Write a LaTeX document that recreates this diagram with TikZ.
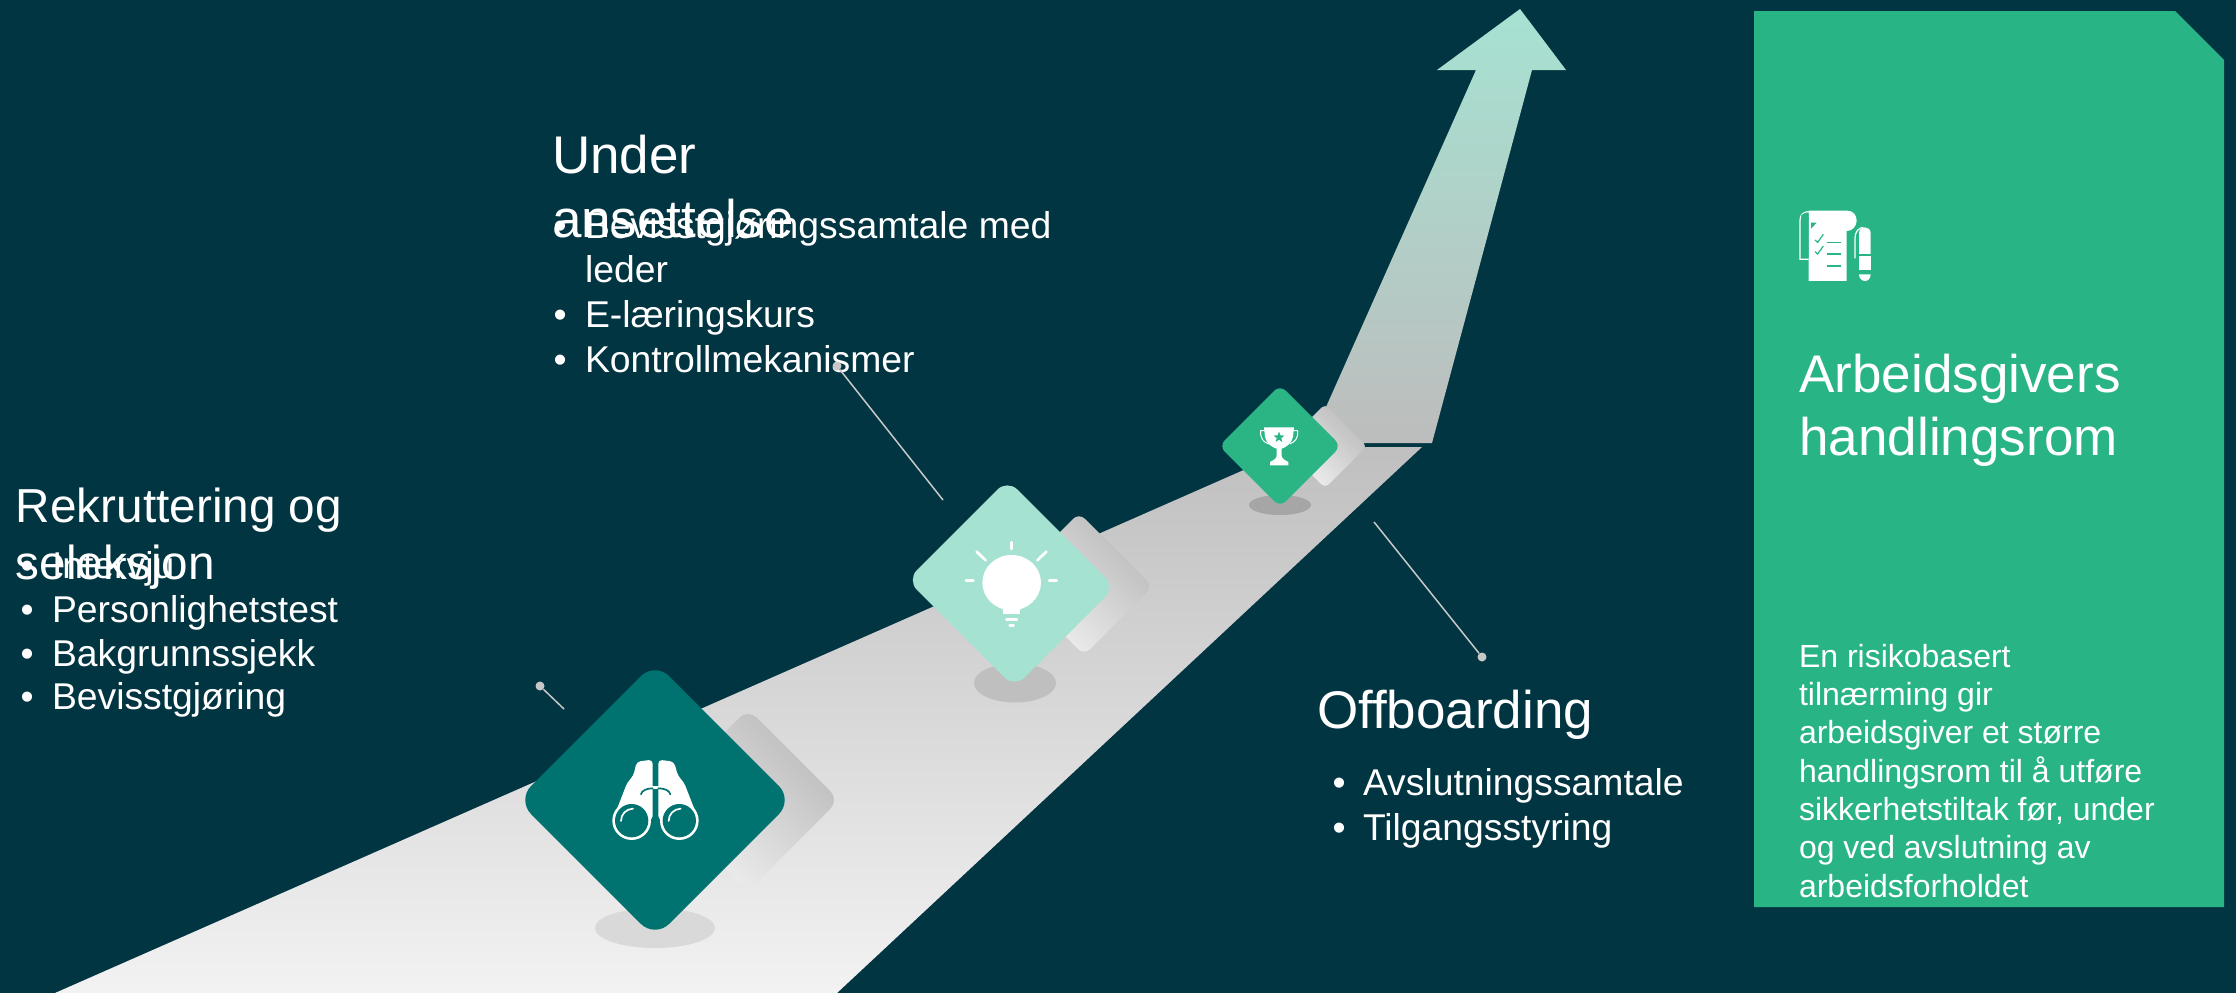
\documentclass[tikz,border=0pt]{standalone}
\usepackage{fontspec}
\setmainfont{Liberation Sans}
\usetikzlibrary{shapes.geometric}
\definecolor{bgc}{HTML}{023542}
\definecolor{tealc}{HTML}{007370}
\definecolor{mintc}{HTML}{A6E2D2}
\definecolor{greenc}{HTML}{2BB584}
\definecolor{panelc}{HTML}{28B484}
\definecolor{leadc}{HTML}{C8C8C8}
\tikzset{
  tx/.style={anchor=base west,inner sep=0pt,outer sep=0pt,text=white},
  ttl/.style={tx,font=\fontsize{#1}{#1}\selectfont},
  bod/.style={tx,font=\fontsize{37.3}{37.3}\selectfont},
  pan/.style={tx,font=\fontsize{32}{32}\selectfont},
  pin/.style={circle,fill=leadc,inner sep=0pt,minimum size=9pt},
  leader/.style={draw=leadc,line width=1.5pt},
  ray/.style={draw=white,line width=2.7pt,line cap=round}
}
\newcommand{\bul}[5]{%
  \node[bod] (#1b) at (#2,#4) {•};
  \node[bod] (#1) at (#3,#4) {#5};}
\begin{document}
\begin{tikzpicture}[x=1pt,y=-1pt]
\useasboundingbox (0,0) rectangle (2236,993);
\fill[bgc] (0,0) rectangle (2236,993);

% arrow and road
\path[top color=mintc,bottom color=black!26]
  (1520,9) -- (1566,70) -- (1532,70) -- (1432,443) -- (1310,443) -- (1476,70) -- (1437,70) -- cycle;
\path[top color=black!25,bottom color=black!5]
  (55,993) -- (1296,447) -- (1422,447) -- (837,993) -- cycle;

% floor shadows
\fill[black!15] (655,928) ellipse [x radius=60,y radius=20];
\fill[black!25] (1015,683) ellipse [x radius=41,y radius=19.5];
\fill[black!35] (1280,505) ellipse [x radius=31,y radius=10];

% back plates
\path[rounded corners=12pt,top color=black!27,bottom color=black!5,shading angle=-45]
  (839,800) -- (748,709) -- (657,800) -- (748,891) -- cycle;
\path[rounded corners=8pt,top color=black!27,bottom color=black!5,shading angle=-45]
  (1152.5,586.5) -- (1079,513) -- (1010.5,581.5) -- (1084,655) -- cycle;
\path[rounded corners=5pt,top color=black!27,bottom color=black!5,shading angle=-45]
  (1367,446) -- (1325,404) -- (1283,446) -- (1325,488) -- cycle;

% diamonds
\fill[tealc,rounded corners=20pt] (793,800) -- (655,662) -- (517,800) -- (655,938) -- cycle;
\fill[mintc,rounded corners=14pt] (1115,587) -- (1007.4,479.6) -- (907,580) -- (1014.6,687.4) -- cycle;
\fill[greenc,rounded corners=8pt] (1341,446) -- (1280,385) -- (1219,446) -- (1280,507) -- cycle;

% binoculars
\begin{scope}[shift={(500,620)},x=0.3333pt,y=-0.3333pt]
  \fill[white,rounded corners=4pt] (410,425) -- (458,419) -- (458,600) -- (342,590) -- (382,487) -- (400,468) -- cycle;
  \fill[white,rounded corners=4pt] (522,425) -- (475,419) -- (475,600) -- (592,590) -- (552,487) -- (534,468) -- cycle;
  \fill[white] (455,498) rectangle (478,506);
  \fill[white] (395,602) circle [radius=58];
  \fill[white] (538,602) circle [radius=58];
  \fill[tealc] (395,602) circle [radius=50];
  \fill[tealc] (538,602) circle [radius=50];
  \draw[white,line width=1.7pt,line cap=round] (363,603) .. controls (363,583) and (378,567) .. (399,566);
  \draw[white,line width=1.7pt,line cap=round] (506,603) .. controls (506,583) and (521,567) .. (542,566);
  \draw[tealc,line width=1.7pt,line cap=round] (423,523) .. controls (425,512) and (440,505) .. (458,505);
  \draw[tealc,line width=1.7pt,line cap=round] (511,523) .. controls (509,512) and (494,505) .. (475,505);
  \fill[tealc] (458,400) rectangle (475,497);
  \fill[tealc] (458,507) rectangle (475,660);
\end{scope}

% bulb
\begin{scope}[shift={(890,470)},x=0.3333pt,y=-0.3333pt]
  \fill[white] (365,338) ellipse [x radius=88,y radius=83];
  \fill[white] (340,400) rectangle (390,432);
  \draw[white,line width=2.4pt,line cap=round] (349,449) -- (381,449);
  \draw[white,line width=2.4pt,line cap=round] (359,467) -- (371,467);
  \draw[ray] (364,217) -- (364,237);
  \draw[ray] (260,245) -- (287,271);
  \draw[ray] (469,245) -- (442,271);
  \draw[ray] (228,332) -- (250,332);
  \draw[ray] (478,332) -- (500,332);
\end{scope}

% trophy
\begin{scope}[shift={(1200,370)},x=0.3333pt,y=-0.3333pt]
  \fill[white] (192,172) -- (282,172) -- (279,200) .. controls (276,220) and (258,232) .. (245,236)
    -- (245,258) .. controls (246,266) and (256,272) .. (265,276) -- (265,286) -- (210,286) -- (210,276)
    .. controls (219,272) and (229,266) .. (230,258) -- (230,236) .. controls (216,232) and (198,220) .. (195,200) -- cycle;
  \draw[white,line width=1pt] (194,182) -- (182,182) .. controls (180,205) and (190,216) .. (206,222);
  \draw[white,line width=1pt] (280,182) -- (293,182) .. controls (295,205) and (285,216) .. (269,222);
  \node[star,star points=5,star point ratio=2.4,fill=greenc,inner sep=0pt,minimum size=11.5pt] (trophystar) at (237,202) {};
\end{scope}

% right panel
\fill[panelc] (1754,11) -- (2175,11) -- (2224,60) -- (2224,907) -- (1754,907) -- cycle;

% document and pen
\begin{scope}[shift={(1750,190)},x=0.3333pt,y=-0.3333pt]
  \fill[white] (176,100) -- (176,62) -- (292,62) .. controls (310,62) and (320,76) .. (320,92) .. controls (320,110) and (306,123) .. (290,123) -- (290,273) -- (176,273) -- cycle;
  \fill[panelc] (183,98) -- (200,98) -- (183,116) -- cycle;
  \draw[white,line width=1.2pt] (176,208) -- (150,208) -- (150,90) .. controls (150,74) and (162,65) .. (175,65);
  \fill[panelc] (154,76) .. controls (158,70) and (170,68) .. (176,70) -- (176,204) -- (154,204) -- cycle;
  \draw[white,line width=1.2pt] (175,65) .. controls (190,65) and (200,76) .. (200,92);
  \draw[panelc,line width=1.2pt] (195,150) -- (203,157) -- (220,133);
  \draw[panelc,line width=1.2pt] (195,185) -- (203,192) -- (220,168);
  \draw[panelc,line width=1.2pt] (230,157) -- (272,157);
  \draw[panelc,line width=1.2pt] (230,192) -- (272,192);
  \draw[panelc,line width=1.2pt] (230,228) -- (272,228);
  \fill[white] (327,192) -- (327,130) .. controls (327,118) and (336,112) .. (345,112) .. controls (354,112) and (362,118) .. (362,130) -- (362,192) -- cycle;
  \fill[white] (327,197) rectangle (362,241);
  \fill[white] (327,253) -- (362,253) .. controls (362,265) and (354,273) .. (345,273) .. controls (336,273) and (327,265) .. (327,253) -- cycle;
  \draw[white,line width=1.2pt] (315,205) -- (315,145) .. controls (315,125) and (326,113) .. (340,112);
\end{scope}

\node[ttl=53] (t4a) at (1799.5,392) {Arbeidsgivers};
\node[ttl=53] (t4b) at (1799.5,455) {handlingsrom};
\node[pan] (p1) at (1799,667) {En risikobasert};
\node[pan] (p2) at (1799,705) {tilnærming gir};
\node[pan] (p3) at (1799,743) {arbeidsgiver et større};
\node[pan] (p4) at (1799,782) {handlingsrom til å utføre};
\node[pan] (p5) at (1799,820) {sikkerhetstiltak før, under};
\node[pan] (p6) at (1799,858) {og ved avslutning av};
\node[pan] (p7) at (1799,897) {arbeidsforholdet};

% Rekruttering
\node[ttl=47.7] (t1a) at (16,522) {Rekruttering og};
\node[ttl=47.7] (t1b) at (16,579) {seleksjon};
\bul{a1}{20.5}{52}{578}{Intervju}
\bul{a2}{20.5}{52}{622}{Personlighetstest}
\bul{a3}{20.5}{52}{666}{Bakgrunnssjekk}
\bul{a4}{20.5}{52}{709}{Bevisstgjøring}

% Under ansettelse
\node[ttl=53] (t2a) at (552,173) {Under};
\node[ttl=53] (t2b) at (552,237) {ansettelse};
\bul{b1}{553.5}{585}{238}{Bevisstgjøringssamtale med}
\node[bod] (b1x) at (585,282) {leder};
\bul{b2}{553.5}{585}{327}{E-læringskurs}
\bul{b3}{553.5}{585}{372}{Kontrollmekanismer}

% Offboarding
\node[ttl=53] (t3a) at (1317,728) {Offboarding};
\bul{c1}{1332.5}{1363}{795}{Avslutningssamtale}
\bul{c2}{1332.5}{1363}{840}{Tilgangsstyring}

% leaders
\node[pin] (pin1) at (540,686) {};
\coordinate (end1) at (564,709);
\draw[leader] (pin1) -- (end1);
\node[pin] (pin2) at (837,366) {};
\coordinate (end2) at (943,500);
\draw[leader] (pin2) -- (end2);
\node[pin] (pin3) at (1482,657) {};
\coordinate (end3) at (1374,522);
\draw[leader] (pin3) -- (end3);
\end{tikzpicture}
\end{document}
